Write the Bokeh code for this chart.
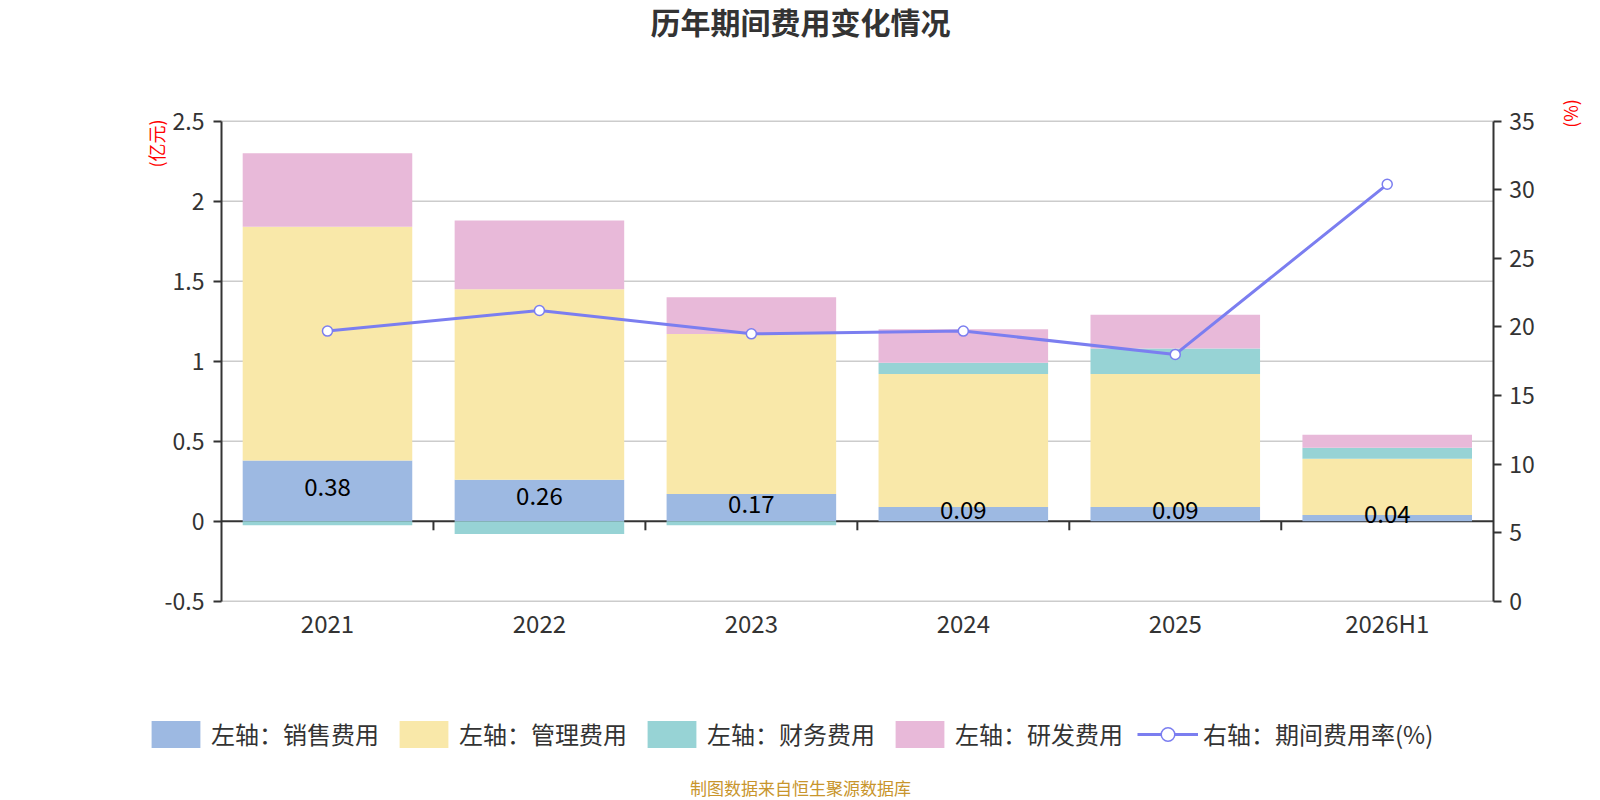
import numpy as np
from bokeh.plotting import figure
from bokeh.models import (Range1d, LinearAxis, FixedTicker, SingleIntervalTicker,
                          NumeralTickFormatter, Label, Legend, LegendItem,
                          ColumnDataSource)
from bokeh.core.properties import value
from bokeh.embed import file_html
from bokeh.resources import INLINE

# ---------------- data ----------------
categories = ["2021", "2022", "2023", "2024", "2025", "2026H1"]
sales = [0.38, 0.26, 0.17, 0.09, 0.09, 0.04]          # 销售费用 (亿元)
mgmt = [1.46, 1.19, 1.00, 0.83, 0.83, 0.35]           # 管理费用
finance = [-0.025, -0.08, -0.025, 0.07, 0.16, 0.07]   # 财务费用
rd = [0.46, 0.43, 0.23, 0.21, 0.21, 0.08]             # 研发费用
rate = [19.7, 21.2, 19.5, 19.7, 18.0, 30.4]           # 期间费用率 (%)

left_lim = (-0.5, 2.5)
left_step = 0.5
right_lim = (0, 35)
right_step = 5

series_names = ["左轴：销售费用", "左轴：管理费用", "左轴：财务费用", "左轴：研发费用"]
line_name = "右轴：期间费用率(%)"
title_text = "历年期间费用变化情况"
footer_text = "制图数据来自恒生聚源数据库"
left_unit = "(亿元)"
right_unit = "(%)"

FONT = "Noto Sans CJK SC"
C_SALES, C_MGMT, C_FIN, C_RD = "#9db9e2", "#f9e8a9", "#97d3d5", "#e8b9d9"
C_LINE = "#7b7ef0"
AX = "#333333"

# ---------------- layout (pixels inside the canvas) ----------------
W_FIG, H_FIG = 1600, 800
PL, PR, PT, PB = 221, 1492.7, 120.7, 600.8     # plot area edges

n = len(categories)
x = np.arange(n) + 0.5

# view ranges so that the plot area sits at PL..PR / PT..PB of the canvas
xs = (PR - PL) / n
x_rng = Range1d(-PL / xs, n + (W_FIG - PR) / xs)
ys = (PB - PT) / (left_lim[1] - left_lim[0])
y_rng = Range1d(left_lim[0] - (H_FIG - PB) / ys, left_lim[1] + PT / ys)
rs = (PB - PT) / (right_lim[1] - right_lim[0])
r_rng = Range1d(right_lim[0] - (H_FIG - PB) / rs, right_lim[1] + PT / rs)

# stacking (same-sign stacking, like the original)
s = np.array(sales)
m = np.array(mgmt)
f = np.array(finance)
r = np.array(rd)
pos = s + m
fin_bottom = np.where(f >= 0, pos, 0.0)
fin_top = np.where(f >= 0, pos + f, f)
pos2 = pos + np.where(f >= 0, f, 0.0)

src = ColumnDataSource(dict(
    x=x, sales=s, mgmt_b=s, mgmt_t=pos, fin_b=fin_bottom, fin_t=fin_top,
    rd_b=pos2, rd_t=pos2 + r, zero=np.zeros(n), rate=rate,
    lab_y=s / 2, lab=[f"{v:.2f}" for v in sales],
))

p = figure(width=W_FIG, height=H_FIG, output_backend="svg", toolbar_location=None,
           tools="", x_range=x_rng, y_range=y_rng, min_border=0,
           x_axis_location=None, y_axis_location=None)
p.outline_line_color = None
p.background_fill_color = "white"
p.grid.visible = False
p.extra_y_ranges = {"right": r_rng}

# ---------------- axes ----------------
def style_axis(ax, size="23px"):
    ax.axis_line_color = AX
    ax.axis_line_width = 2
    ax.major_tick_line_color = AX
    ax.major_tick_line_width = 2
    ax.major_tick_out = 8
    ax.major_tick_in = 0
    ax.minor_tick_line_color = None
    ax.major_label_text_font = FONT
    ax.major_label_text_font_size = size
    ax.major_label_text_color = AX

la = LinearAxis(ticker=SingleIntervalTicker(interval=left_step, num_minor_ticks=0),
                formatter=NumeralTickFormatter(format="0.[0]"),
                fixed_location=0, bounds=left_lim)
style_axis(la)
la.major_label_standoff = 9
p.add_layout(la, "left")

ra = LinearAxis(y_range_name="right",
                ticker=SingleIntervalTicker(interval=right_step, num_minor_ticks=0),
                fixed_location=n, bounds=right_lim)
style_axis(ra)
ra.major_label_standoff = 8
p.add_layout(ra, "right")

xa = LinearAxis(ticker=FixedTicker(ticks=list(x)), fixed_location=left_lim[0],
                bounds=(0, n))
style_axis(xa, "24px")
xa.major_label_overrides = {float(xv): c for xv, c in zip(x, categories)}
xa.axis_line_color = None
xa.major_tick_line_color = None
xa.major_tick_out = 0
xa.major_label_standoff = 4
p.add_layout(xa, "below")

# horizontal grid lines at the left-axis ticks
gy = np.arange(left_lim[0], left_lim[1] + left_step / 2, left_step)
gy = gy[gy != 0]
p.segment(x0=np.zeros(len(gy)), x1=np.full(len(gy), n), y0=gy, y1=gy,
          line_color="#cccccc", line_width=1.5)
# category axis line at zero with boundary ticks
p.segment(x0=[0], x1=[n], y0=[0], y1=[0], line_color=AX, line_width=2)
bx = np.arange(1, n)
p.segment(x0=bx, x1=bx, y0=np.zeros(n - 1), y1=np.full(n - 1, -9 / ys),
          line_color=AX, line_width=2)

# ---------------- bars ----------------
W = 0.8
r_sales = p.vbar(x="x", top="sales", bottom="zero", width=W, source=src,
                 fill_color=C_SALES, line_color=None)
r_mgmt = p.vbar(x="x", top="mgmt_t", bottom="mgmt_b", width=W, source=src,
                fill_color=C_MGMT, line_color=None)
r_fin = p.vbar(x="x", top="fin_t", bottom="fin_b", width=W, source=src,
               fill_color=C_FIN, line_color=None)
r_rd = p.vbar(x="x", top="rd_t", bottom="rd_b", width=W, source=src,
              fill_color=C_RD, line_color=None)

p.text(x="x", y="lab_y", text="lab", source=src, text_align="center",
       text_baseline="middle", y_offset=-4, text_font=value(FONT),
       text_font_size="24px", text_color="black")

# ---------------- line on the right axis ----------------
r_line = p.line(x="x", y="rate", source=src, y_range_name="right",
                line_color=C_LINE, line_width=3)
r_pts = p.scatter(x="x", y="rate", source=src, y_range_name="right", size=10,
                  fill_color="white", line_color=C_LINE, line_width=1.5)

# ---------------- legend ----------------
legend = Legend(items=[
    LegendItem(label=series_names[0], renderers=[r_sales]),
    LegendItem(label=series_names[1], renderers=[r_mgmt]),
    LegendItem(label=series_names[2], renderers=[r_fin]),
    LegendItem(label=series_names[3], renderers=[r_rd]),
    LegendItem(label=line_name, renderers=[r_line, r_pts]),
], orientation="horizontal", location=(145, 49))
legend.glyph_width = 61
legend.glyph_height = 34
legend.label_standoff = 5
legend.spacing = 14
legend.padding = 0
legend.margin = 0
legend.border_line_color = None
legend.background_fill_alpha = 0
legend.label_text_font = FONT
legend.label_text_font_size = "24px"
legend.label_text_color = AX
p.add_layout(legend, "center")

# ---------------- texts ----------------
def screen_label(xp, yp, text, size, color, style="normal", angle=0.0):
    p.add_layout(Label(x=xp, y=yp, x_units="screen", y_units="screen", text=text,
                       text_align="center", text_baseline="middle", angle=angle,
                       text_font=FONT, text_font_size=size,
                       text_font_style=style, text_color=color))

screen_label(800, 780, title_text, "30px", AX, "bold")
screen_label(800, 13, footer_text, "17px", "#c8952c")
screen_label(155, 657, left_unit, "18px", "red", angle=np.pi / 2)
screen_label(1569, 687, right_unit, "18px", "red", angle=np.pi / 2)

open("out.html", "w").write(file_html(p, INLINE))
